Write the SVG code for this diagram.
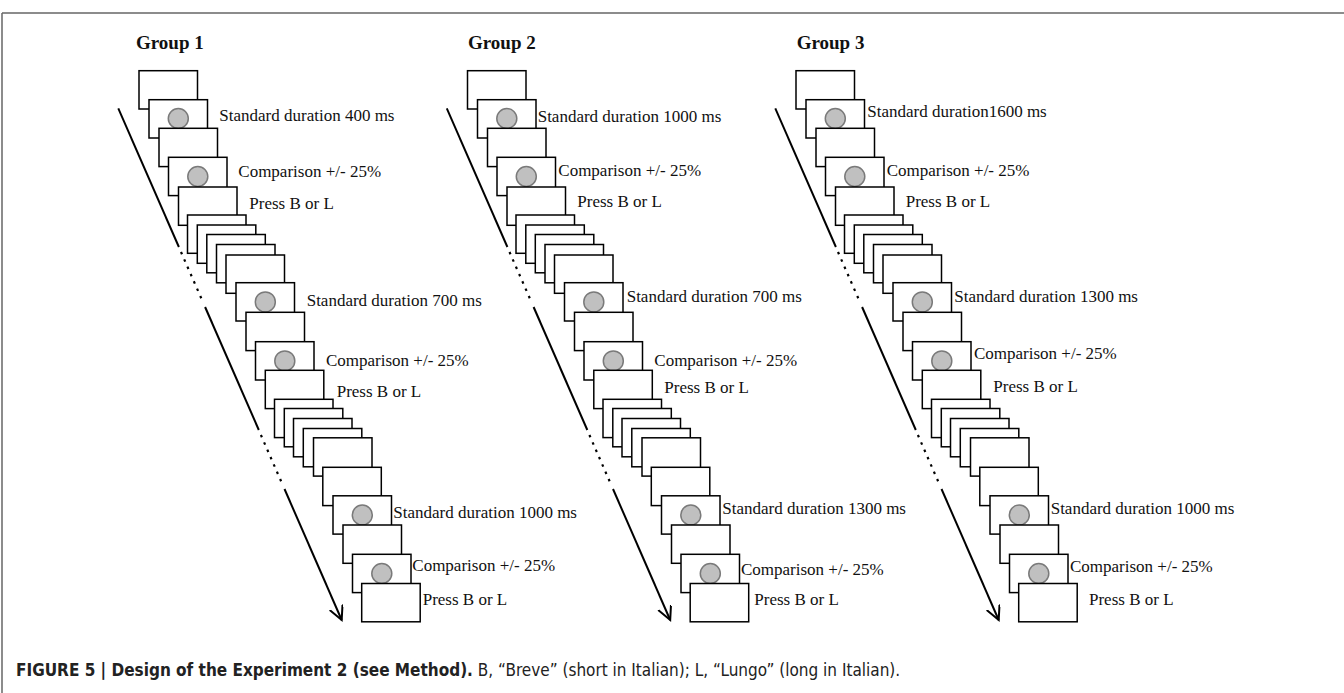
<svg xmlns="http://www.w3.org/2000/svg" xmlns:xlink="http://www.w3.org/1999/xlink" width="1344" height="693" viewBox="0 0 1344 693">
<style>
.f{fill:#fff;stroke:#000;stroke-width:1.5}
.c{fill:#c0c0c0;stroke:#7a7a7a;stroke-width:1.5}
.t{font-family:"Liberation Serif","Times New Roman",serif;font-size:17px;fill:#111}
.g{font-family:"Liberation Serif","Times New Roman",serif;font-size:19px;font-weight:bold;fill:#111}
.ln{stroke:#000;stroke-width:2;fill:none}
.dt{stroke:#000;stroke-width:2.2;fill:none;stroke-dasharray:2.5 5.5}
.cap{font-family:"Liberation Sans Narrow","DejaVu Sans Condensed","Liberation Sans",sans-serif;font-stretch:condensed;font-size:17px;fill:#222}
.frame{stroke:#666;stroke-width:1.5;fill:none}
</style>
<defs>
<marker id="ah" markerUnits="userSpaceOnUse" markerWidth="18" markerHeight="18" refX="14" refY="7" orient="auto">
<path d="M0,0 L14,7 L0,14" fill="none" stroke="#000" stroke-width="2"/>
</marker>
<g id="stack">
<rect class="f" x="139" y="70.7" width="58.5" height="38.3"/>
<rect class="f" x="149" y="99.7" width="58.5" height="38.3"/>
<circle class="c" cx="178.3" cy="118.5" r="10"/>
<rect class="f" x="159" y="128.3" width="58.5" height="38.3"/>
<rect class="f" x="168.5" y="157.3" width="58.5" height="38.3"/>
<circle class="c" cx="197.8" cy="176.5" r="10"/>
<rect class="f" x="178.5" y="187" width="58.5" height="38.3"/>
<rect class="f" x="187.5" y="215" width="58.5" height="38.3"/>
<rect class="f" x="197.3" y="225" width="58.5" height="38.3"/>
<rect class="f" x="206.8" y="234.5" width="58.5" height="38.3"/>
<rect class="f" x="216.5" y="244.5" width="58.5" height="38.3"/>
<rect class="f" x="226" y="255" width="58.5" height="38.3"/>
<rect class="f" x="236" y="282.7" width="58.5" height="38.3"/>
<circle class="c" cx="265.3" cy="301.9" r="10"/>
<rect class="f" x="246" y="312.3" width="58.5" height="38.3"/>
<rect class="f" x="255.5" y="341.7" width="58.5" height="38.3"/>
<circle class="c" cx="284.8" cy="360.9" r="10"/>
<rect class="f" x="265.3" y="370.3" width="58.5" height="38.3"/>
<rect class="f" x="274.5" y="399.3" width="58.5" height="38.3"/>
<rect class="f" x="284.3" y="408.5" width="58.5" height="38.3"/>
<rect class="f" x="293.5" y="418.5" width="58.5" height="38.3"/>
<rect class="f" x="303.3" y="428.5" width="58.5" height="38.3"/>
<rect class="f" x="313.5" y="437.8" width="58.5" height="38.3"/>
<rect class="f" x="322.8" y="467.3" width="58.5" height="38.3"/>
<rect class="f" x="333" y="495.8" width="58.5" height="38.3"/>
<circle class="c" cx="362.3" cy="515" r="10"/>
<rect class="f" x="343" y="525" width="58.5" height="38.3"/>
<rect class="f" x="352.5" y="554.3" width="58.5" height="38.3"/>
<circle class="c" cx="381.8" cy="573.5" r="10"/>
<rect class="f" x="361.7" y="583.5" width="58.5" height="38.3"/>
</g>
<g id="timeline">
<line class="ln" x1="118.3" y1="108.3" x2="178.9" y2="247"/>
<line class="dt" x1="181" y1="252" x2="202.9" y2="302"/>
<line class="ln" x1="205.1" y1="307" x2="258.8" y2="430"/>
<line class="dt" x1="260.9" y1="435" x2="282.3" y2="484"/>
<line class="ln" x1="284.5" y1="489" x2="341.7" y2="620" marker-end="url(#ah)"/>
</g>
</defs>

<g id="frame">
<line class="frame" x1="2" y1="13" x2="1344" y2="13"/>
<line class="frame" x1="2" y1="13" x2="2" y2="693"/>
</g>

<g id="connectors">
<use xlink:href="#timeline"/>
<use xlink:href="#timeline" transform="translate(328.5 0)"/>
<use xlink:href="#timeline" transform="translate(657 0)"/>
</g>

<g id="group-1">
<text class="g" x="136" y="49">Group 1</text>
<use xlink:href="#stack"/>
<text class="t" x="219.3" y="120.7">Standard duration 400 ms</text>
<text class="t" x="238.3" y="177.3">Comparison +/- 25%</text>
<text class="t" x="249.3" y="209">Press B or L</text>
<text class="t" x="306.7" y="306">Standard duration 700 ms</text>
<text class="t" x="326" y="365.7">Comparison +/- 25%</text>
<text class="t" x="336.7" y="396.7">Press B or L</text>
<text class="t" x="393.3" y="518.3">Standard duration 1000 ms</text>
<text class="t" x="412.3" y="571">Comparison +/- 25%</text>
<text class="t" x="422.7" y="604.5">Press B or L</text>
</g>

<g id="group-2">
<text class="g" x="468" y="49">Group 2</text>
<use xlink:href="#stack" transform="translate(328.5 0)"/>
<text class="t" x="537.7" y="121.7">Standard duration 1000 ms</text>
<text class="t" x="558.3" y="176">Comparison +/- 25%</text>
<text class="t" x="577.3" y="207.3">Press B or L</text>
<text class="t" x="626.7" y="301.7">Standard duration 700 ms</text>
<text class="t" x="654.3" y="365.7">Comparison +/- 25%</text>
<text class="t" x="664.3" y="392.7">Press B or L</text>
<text class="t" x="722.3" y="514">Standard duration 1300 ms</text>
<text class="t" x="741" y="575">Comparison +/- 25%</text>
<text class="t" x="754.3" y="605">Press B or L</text>
</g>

<g id="group-3">
<text class="g" x="796.7" y="49">Group 3</text>
<use xlink:href="#stack" transform="translate(657 0)"/>
<text class="t" x="867.3" y="116.7">Standard duration1600 ms</text>
<text class="t" x="886.7" y="176">Comparison +/- 25%</text>
<text class="t" x="905.7" y="207.3">Press B or L</text>
<text class="t" x="954.3" y="301.7">Standard duration 1300 ms</text>
<text class="t" x="974" y="359.3">Comparison +/- 25%</text>
<text class="t" x="993.3" y="392.3">Press B or L</text>
<text class="t" x="1050.7" y="514">Standard duration 1000 ms</text>
<text class="t" x="1070" y="571.7">Comparison +/- 25%</text>
<text class="t" x="1089" y="605">Press B or L</text>
</g>

<g id="caption">
<text class="cap" x="16" y="676"><tspan font-weight="bold">FIGURE 5 | Design of the Experiment 2 (see Method).</tspan> B, “Breve” (short in Italian); L, “Lungo” (long in Italian).</text>
</g>
</svg>
